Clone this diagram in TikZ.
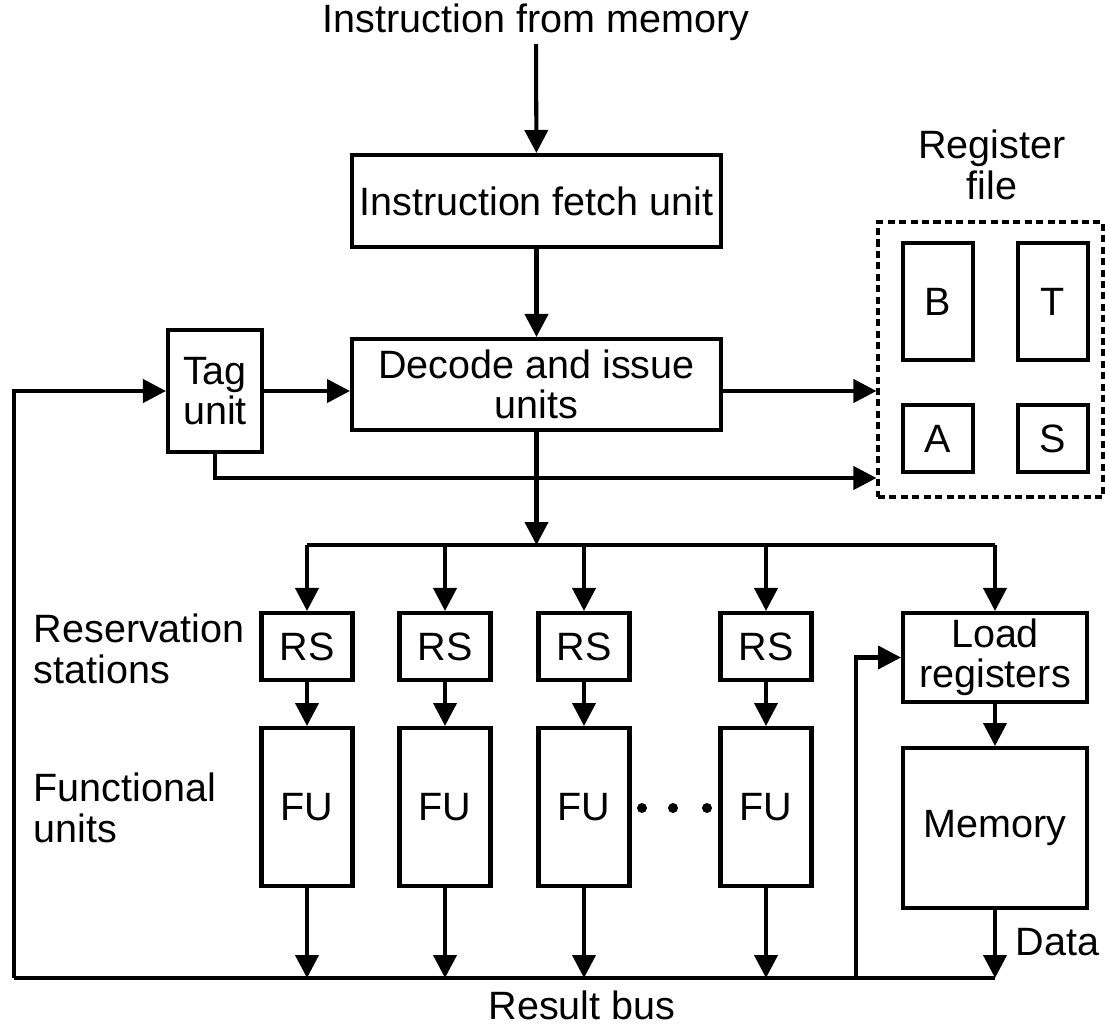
\documentclass[tikz,border=0pt]{standalone}
\usepackage{fontspec}
\setmainfont{Liberation Sans}
\usetikzlibrary{arrows.meta,positioning}
\begin{document}
\begin{tikzpicture}[x=0.02cm,y=-0.02cm,line width=2.3pt,every node/.style={inner sep=1pt,font=\fontsize{22.5}{23}\selectfont}]
\tikzstyle{arrow}=[draw,-{Triangle[length=0.46cm,width=0.46cm]}]
\tikzstyle{box}=[draw,line width=2.3pt,align=center]
\tikzstyle{rsbox}=[box,minimum width=1.82cm,minimum height=1.34cm]
\tikzstyle{fubox}=[box,minimum width=1.82cm,minimum height=3.16cm]
\tikzstyle{regbox}=[box,line width=1.8pt,minimum width=1.4cm]
\useasboundingbox (0,0) rectangle (1105,1027);

\node(title) at (536,22){Instruction from memory};
\node[box,minimum width=7.38cm,minimum height=1.84cm](ifu) at (536.5,201){Instruction fetch unit};
\node[box,minimum width=7.38cm,minimum height=1.82cm](dec) at (536.5,384.5){Decode and issue\\units};
\node[box,minimum width=1.88cm,minimum height=2.44cm](tag) at (215,391){Tag\\unit};

% register file
\node[draw,line width=1.8pt,dash pattern=on 4pt off 2.5pt,minimum width=4.5cm,minimum height=5.5cm](reg) at (990.5,359.5){};
\node[align=center](regl) at (992,165){Register\\file};
\node[regbox,minimum height=2.34cm](rb) at (938,301.5){B};
\node[regbox,minimum height=2.34cm](rt) at (1053,301.5){T};
\node[regbox,minimum height=1.34cm](ra) at (938,438.5){A};
\node[regbox,minimum height=1.34cm](rs) at (1053,438.5){S};

% stations and units
\node[rsbox](rs1) at (307,646.5){RS};
\node[rsbox](rs2) at (445,646.5){RS};
\node[rsbox](rs3) at (584,646.5){RS};
\node[rsbox](rs4) at (766,646.5){RS};
\node[fubox](fu1) at (307,807){FU};
\node[fubox](fu2) at (445,807){FU};
\node[fubox](fu3) at (584,807){FU};
\node[fubox](fu4) at (766,807){FU};
\node[box,minimum width=3.68cm,minimum height=1.78cm](load) at (995,657.5){Load\\registers};
\node[box,minimum width=3.68cm,minimum height=3.2cm](mem) at (995,828){Memory};

\node[anchor=west,align=left](rsl) at (30,649){Reservation\\stations};
\node[anchor=west,align=left](ful) at (30,808){Functional\\units};
\node(busl) at (582,1005){Result bus};
\node[anchor=west](datal) at (1012,942){Data};

\fill (642,808) circle (5) (673,808) circle (5) (707,808) circle (5);

\coordinate(j0) at (536.5,545);
\coordinate(b0) at (14,978);
\coordinate(b1) at (856,978);

\path[arrow](title)--(ifu);
\path[arrow](ifu)--(dec);
\path[arrow](tag)--(tag-|dec.west);
\path[arrow](dec.east|-tag)--(reg.west|-tag);
\path[arrow](tag.south)|-(reg.west|-0,478);
\path[arrow](dec.south)--(j0);
\draw(rs1|-j0)--(load|-j0);
\path[arrow](rs1|-j0)--(rs1);
\path[arrow](rs2|-j0)--(rs2);
\path[arrow](rs3|-j0)--(rs3);
\path[arrow](rs4|-j0)--(rs4);
\path[arrow](load|-j0)--(load);
\path[arrow](rs1)--(fu1);
\path[arrow](rs2)--(fu2);
\path[arrow](rs3)--(fu3);
\path[arrow](rs4)--(fu4);
\path[arrow](load)--(mem);
\draw(b0)--(mem|-b0);
\path[arrow](fu1)--(fu1|-b0);
\path[arrow](fu2)--(fu2|-b0);
\path[arrow](fu3)--(fu3|-b0);
\path[arrow](fu4)--(fu4|-b0);
\path[arrow](mem)--(mem|-b0);
\path[arrow](b0)|-(tag);
\path[arrow](b1)|-(load);
\end{tikzpicture}
\end{document}
